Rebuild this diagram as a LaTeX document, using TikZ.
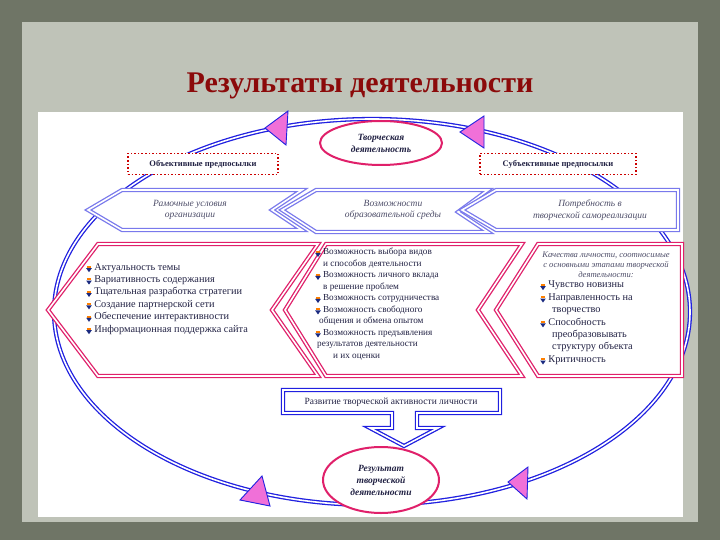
\documentclass[tikz,border=0pt]{standalone}
\usepackage{fontspec}
\setmainfont{Liberation Serif}
\usetikzlibrary{shapes.geometric}
\definecolor{frame}{HTML}{6F7566}
\definecolor{panel}{HTML}{BFC3B8}
\definecolor{ttl}{HTML}{8B0A0A}
\definecolor{eblue}{HTML}{2020E0}
\definecolor{pinkb}{HTML}{E0206A}
\definecolor{magt}{HTML}{F070D8}
\definecolor{txt}{HTML}{222244}
\definecolor{navy}{HTML}{1A2A80}
\newcommand{\bul}{\tikz[baseline=-1pt]{\fill[orange](-1.8pt,1pt) rectangle (1.8pt,3pt);\fill[navy](-2.8pt,0.8pt)--(2.8pt,0.8pt)--(0,-3.2pt)--cycle;}~}
\tikzset{
 dbl/.style={draw=#1,double=white,double distance=1.6pt,line width=1.3pt},
 tri/.style={fill=magt,draw=eblue,line width=0.9pt},
 oval/.style={ellipse,draw=pinkb,line width=2pt,fill=white,align=center,font=\itshape\bfseries\fontsize{9.5}{12}\selectfont,text=txt},
 dotbox/.style={draw=red!80!black,dotted,line width=1.6pt,fill=white,font=\bfseries\fontsize{8.5}{10}\selectfont,text=txt,minimum height=21pt,inner xsep=6pt},
 lbl/.style={align=center,font=\itshape\fontsize{9.5}{11.5}\selectfont,text=txt!80},
 lst/.style={align=left,font=\fontsize{10.3}{12.4}\selectfont,text=txt,anchor=north west,inner sep=0pt}
}
\begin{document}
\begin{tikzpicture}[x=1pt,y=-1pt]
\useasboundingbox (0,0) rectangle (720,540);
\fill[frame] (0,0) rectangle (720,540);
\fill[panel] (22,22) rectangle (698,522);
\node[font=\bfseries\fontsize{30}{32}\selectfont,text=ttl] (title) at (360,86) {Результаты деятельности};
\fill[white] (38,112) rectangle (683,517);
% big ellipse
\draw[dbl=eblue] (372,312) ellipse [x radius=318, y radius=193];
% triangles
\draw[tri] (265,128)--(288,111)--(286,145)--cycle;
\draw[tri] (460,132)--(484,116)--(484,148)--cycle;
\draw[tri] (240,500)--(262,476)--(270,506)--cycle;
\draw[tri] (508,482)--(528,467)--(527,499)--cycle;
% ovals
\node[oval,minimum width=122pt,minimum height=44pt] (top) at (381,143) {Творческая\\деятельность};
\node[oval,minimum width=116pt,minimum height=66pt] (bot) at (381,480) {Результат\\творческой\\деятельности};
% dotted boxes
\node[dotbox,minimum width=150pt] (obj) at (203,164) {Объективные предпосылки};
\node[dotbox,minimum width=156pt] (sub) at (558,164) {Субъективные предпосылки};
% blue chevrons
\draw[dbl=eblue!60,fill=white] (88,210)--(122,190)--(302,190)--(272,210)--(302,230)--(122,230)--cycle;
\draw[dbl=eblue!60,fill=white] (282,210)--(316,190)--(488,190)--(458,212)--(488,232)--(316,232)--cycle;
\draw[dbl=eblue!60,fill=white] (462,210)--(496,190)--(678,190)--(678,230)--(496,230)--cycle;
\node[lbl] (c1) at (190,210) {Рамочные условия\\организации};
\node[lbl] (c2) at (393,210) {Возможности\\образовательной среды};
\node[lbl] (c3) at (590,210) {Потребность в\\творческой самореализации};
% pink chevrons
\draw[dbl=pinkb,fill=white] (48,310)--(98,244)--(318,244)--(272,310)--(318,376)--(98,376)--cycle;
\draw[dbl=pinkb,fill=white] (285,310)--(326,244)--(522,244)--(478,310)--(522,376)--(326,376)--cycle;
\draw[dbl=pinkb,fill=white] (496,310)--(538,244)--(682,244)--(682,376)--(538,376)--cycle;
\node[lst] (l1) at (86,263) {\bul Актуальность темы\\\bul Вариативность содержания\\\bul Тщательная разработка стратегии\\\bul Создание партнерской сети\\\bul Обеспечение интерактивности\\\bul Информационная поддержка сайта};
\node[lst,font=\fontsize{9.2}{11.5}\selectfont] (l2) at (315,248) {\bul Возможность выбора видов\\\hspace*{8pt}и способов деятельности\\\bul Возможность личного вклада\\\hspace*{8pt}в решение проблем\\\bul Возможность сотрудничества\\\bul Возможность свободного\\\hspace*{4pt}общения и обмена опытом\\\bul Возможность предъявления\\\hspace*{2pt}результатов деятельности\\\hspace*{18pt}и их оценки};
\node[lbl,font=\itshape\fontsize{8.6}{10}\selectfont] (q) at (606,265) {Качества личности, соотносимые\\с основными этапами творческой\\деятельности:};
\node[lst] (l3) at (540,281) {\bul Чувство новизны\\\bul Направленность на\\\hspace*{12pt}творчество\\\bul Способность\\\hspace*{12pt}преобразовывать\\\hspace*{12pt}структуру объекта\\\bul Критичность};
% bottom arrow
\draw[dbl=eblue,fill=white] (283,390)--(500,390)--(500,413)--(417,413)--(417,428)--(438,428)--(404,446)--(370,428)--(392,428)--(392,413)--(283,413)--cycle;
\node[font=\fontsize{9.5}{11}\selectfont,text=txt] (dev) at (391,402) {Развитие творческой активности личности};
\end{tikzpicture}
\end{document}
